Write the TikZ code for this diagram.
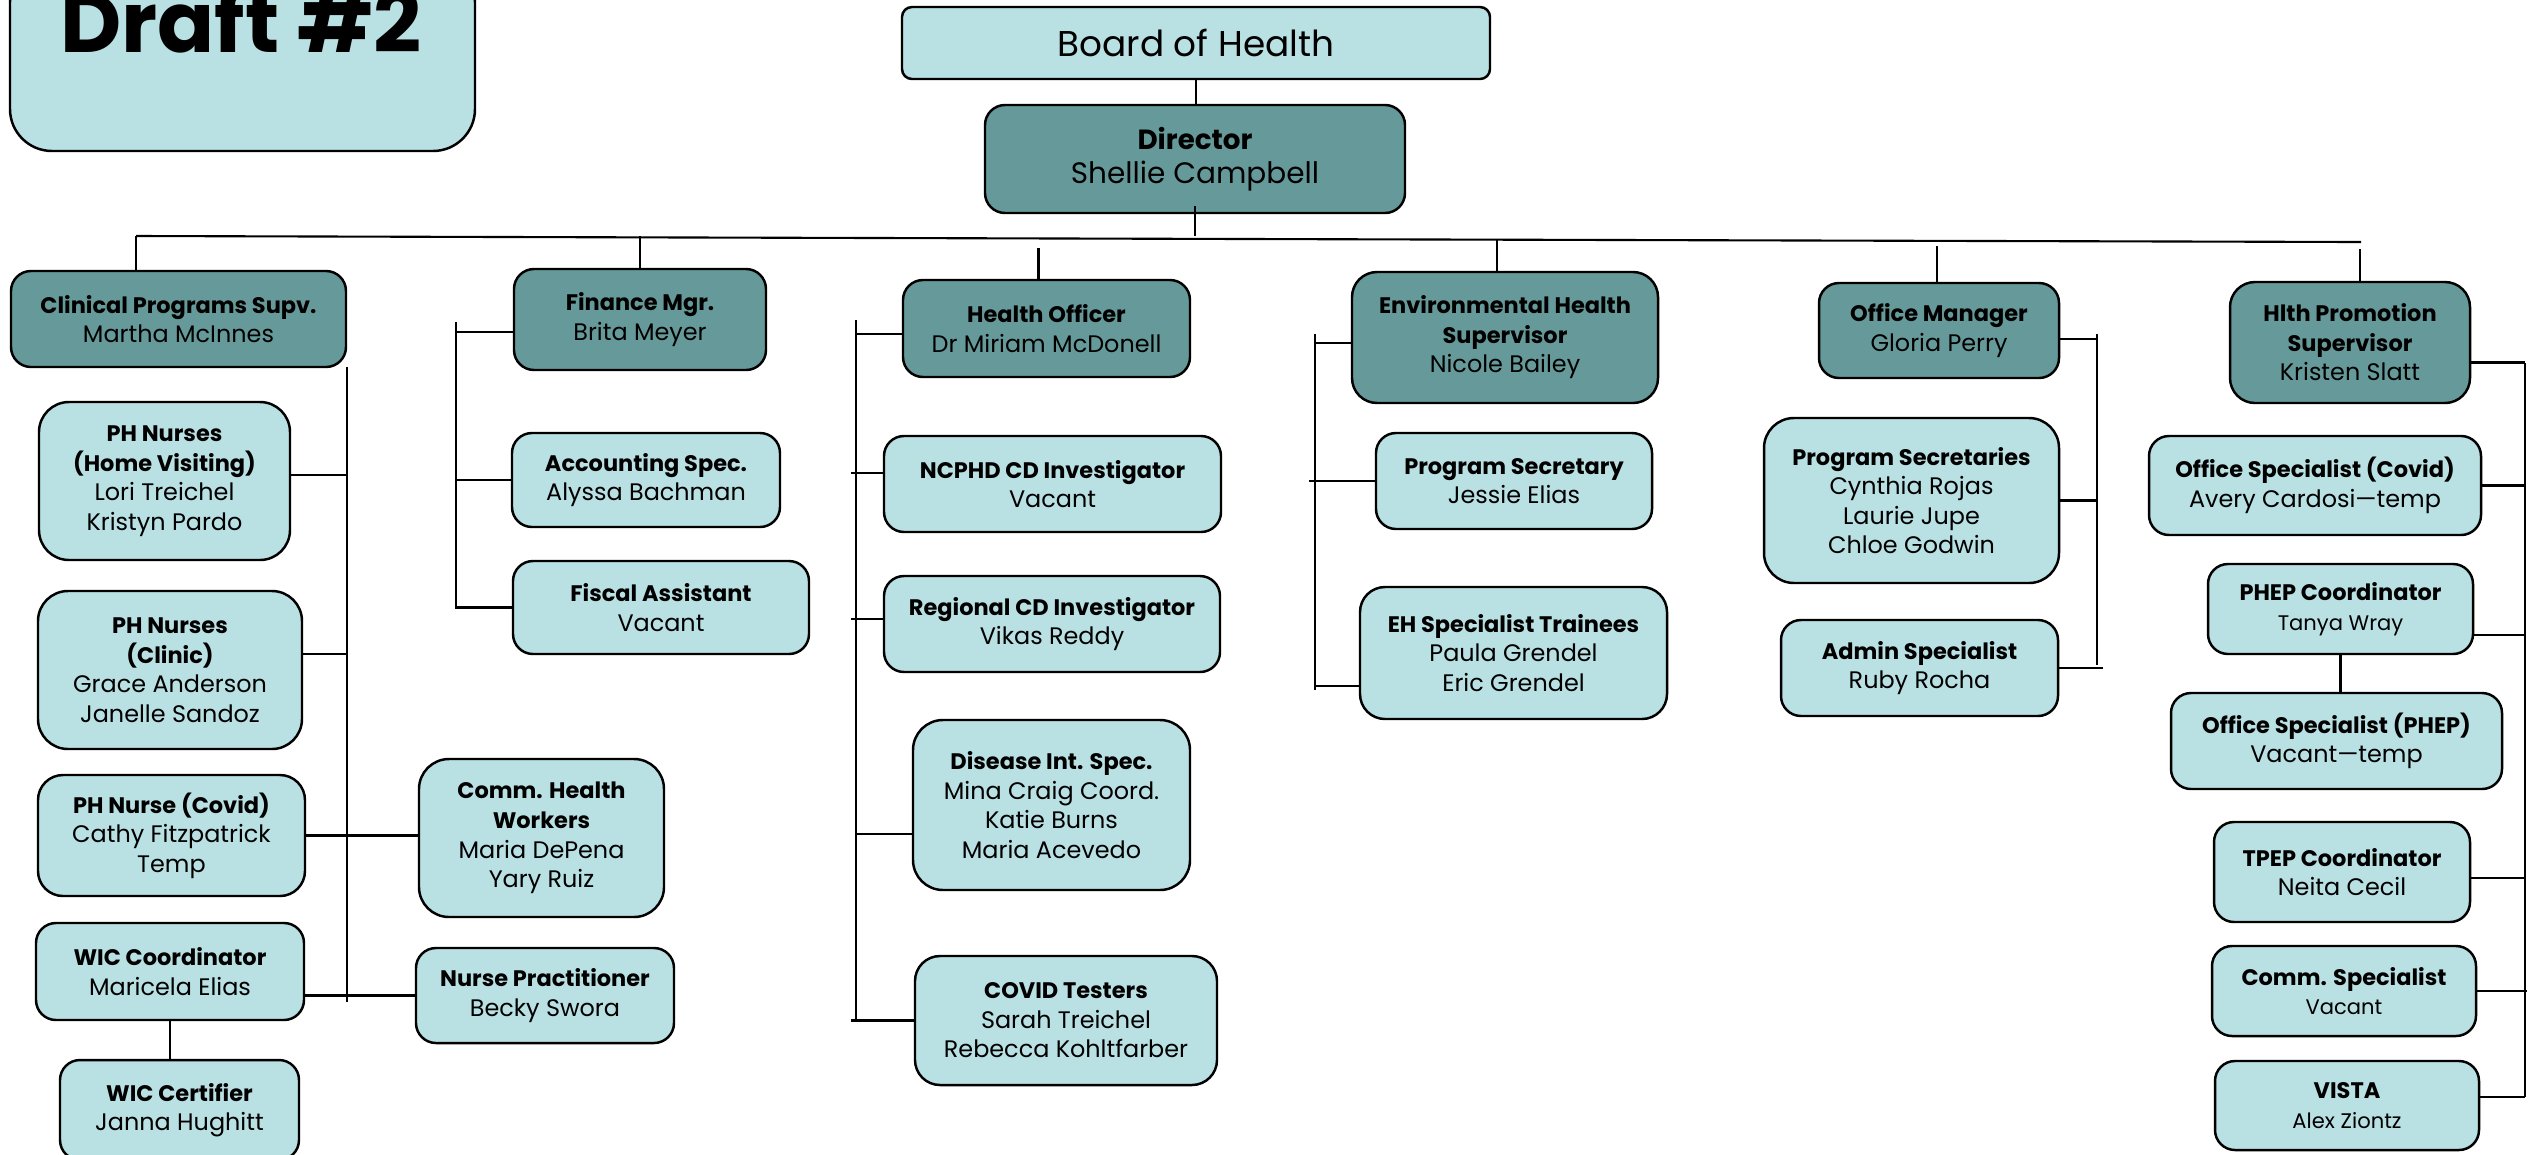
\documentclass[tikz,border=0pt]{standalone}
\usepackage{fontspec}
\setmainfont{Poppins}[BoldFeatures={Scale=0.94}]
\definecolor{litebox}{RGB}{185,224,227}
\definecolor{darkbox}{RGB}{102,153,153}

\begin{document}
\begin{tikzpicture}[
    lite/.style={draw, line width=0.7pt, fill=litebox, rounded corners=0.2cm,
      align=center, inner sep=1pt, font=\fontsize{6.8}{8.4}\selectfont},
    dark/.style={lite, fill=darkbox},
    wh/.style 2 args={minimum width=#1cm, minimum height=#2cm},
    big/.style={rounded corners=0.3cm},
    mid/.style={rounded corners=0.25cm},
    link/.style={line width=0.6pt}
  ]
  \useasboundingbox (0,0) rectangle (25.4,-11.54);
  \begin{scope}
  \clip (0,0) rectangle (25.4,-11.54);
  % title card
  \node[lite, wh={4.65}{1.91}, rounded corners=0.42cm] (draft) at (2.425,-0.555) {};
  \node[font=\fontsize{25.5}{26}\selectfont\bfseries, anchor=base] (drafttxt) at (2.41,-0.52) {Draft \#2};

  % top of the chart
  \node[lite, wh={5.88}{0.72}, rounded corners=0.1cm, font=\fontsize{10.2}{12}\selectfont] (board) at (11.96,-0.43) {Board of Health};
  \node[dark, wh={4.20}{1.08}, font=\fontsize{8.4}{9.8}\selectfont] (director) at (11.95,-1.59) {\textbf{Director}\\Shellie Campbell};

  % supervisors
  \node[dark, wh={3.35}{0.96}] (clin) at (1.785,-3.19) {\textbf{Clinical Programs Supv.}\\Martha McInnes};
  \node[dark, wh={2.52}{1.01}] (fin) at (6.40,-3.195) {\textbf{Finance Mgr.}\\Brita Meyer};
  \node[dark, wh={2.87}{0.97}] (hoff) at (10.465,-3.285) {\textbf{Health Officer}\\Dr Miriam McDonell};
  \node[dark, mid, wh={3.06}{1.31}] (envh) at (15.05,-3.375) {\textbf{Environmental Health}\\\textbf{Supervisor}\\Nicole Bailey};
  \node[dark, wh={2.40}{0.95}] (offm) at (19.39,-3.305) {\textbf{Office Manager}\\Gloria Perry};
  \node[dark, mid, wh={2.40}{1.21}] (hpro) at (23.50,-3.425) {\textbf{Hlth Promotion}\\\textbf{Supervisor}\\Kristen Slatt};

  % clinical programs
  \node[lite, big, wh={2.51}{1.58}] (phhv) at (1.645,-4.81) {\textbf{PH Nurses}\\\textbf{(Home Visiting)}\\Lori Treichel\\Kristyn Pardo};
  \node[lite, big, wh={2.64}{1.58}] (phcl) at (1.70,-6.70) {\textbf{PH Nurses}\\\textbf{(Clinic)}\\Grace Anderson\\Janelle Sandoz};
  \node[lite, mid, wh={2.67}{1.21}] (phcv) at (1.715,-8.355) {\textbf{PH Nurse (Covid)}\\Cathy Fitzpatrick\\Temp};
  \node[lite, wh={2.68}{0.97}] (wicc) at (1.70,-9.715) {\textbf{WIC Coordinator}\\Maricela Elias};
  \node[lite, wh={2.39}{1.00}] (wicr) at (1.795,-11.10) {\textbf{WIC Certifier}\\Janna Hughitt};
  \node[lite, big, wh={2.45}{1.58}] (chw) at (5.415,-8.38) {\textbf{Comm. Health}\\\textbf{Workers}\\Maria DePena\\Yary Ruiz};
  \node[lite, wh={2.58}{0.95}] (np) at (5.45,-9.955) {\textbf{Nurse Practitioner}\\Becky Swora};

  % finance
  \node[lite, wh={2.68}{0.94}] (acct) at (6.46,-4.80) {\textbf{Accounting Spec.}\\Alyssa Bachman};
  \node[lite, wh={2.96}{0.93}] (fisc) at (6.61,-6.075) {\textbf{Fiscal Assistant}\\Vacant};

  % health officer
  \node[lite, wh={3.37}{0.96}] (ncphd) at (10.525,-4.84) {\textbf{NCPHD CD Investigator}\\Vacant};
  \node[lite, wh={3.36}{0.96}] (regcd) at (10.52,-6.24) {\textbf{Regional CD Investigator}\\Vikas Reddy};
  \node[lite, big, wh={2.77}{1.70}] (dis) at (10.515,-8.05) {\textbf{Disease Int. Spec.}\\Mina Craig Coord.\\Katie Burns\\Maria Acevedo};
  \node[lite, mid, wh={3.02}{1.29}] (covt) at (10.66,-10.205) {\textbf{COVID Testers}\\Sarah Treichel\\Rebecca Kohltfarber};

  % environmental health
  \node[lite, wh={2.76}{0.96}] (psec) at (15.14,-4.81) {\textbf{Program Secretary}\\Jessie Elias};
  \node[lite, mid, wh={3.07}{1.32}] (ehst) at (15.135,-6.53) {\textbf{EH Specialist Trainees}\\Paula Grendel\\Eric Grendel};

  % office
  \node[lite, big, wh={2.95}{1.65}] (psecs) at (19.115,-5.005) {\textbf{Program Secretaries}\\Cynthia Rojas\\Laurie Jupe\\Chloe Godwin};
  \node[lite, wh={2.77}{0.96}] (adm) at (19.195,-6.68) {\textbf{Admin Specialist}\\Ruby Rocha};

  % health promotion
  \node[lite, wh={3.32}{0.99}] (oscv) at (23.15,-4.855) {\textbf{Office Specialist (Covid)}\\Avery Cardosi—temp};
  \node[lite, wh={2.65}{0.90}] (phep) at (23.405,-6.09) {\textbf{PHEP Coordinator}\\{\fontsize{6}{8}\selectfont Tanya Wray}};
  \node[lite, wh={3.31}{0.96}] (osph) at (23.365,-7.41) {\textbf{Office Specialist (PHEP)}\\Vacant—temp};
  \node[lite, wh={2.56}{1.00}] (tpep) at (23.42,-8.72) {\textbf{TPEP Coordinator}\\Neita Cecil};
  \node[lite, wh={2.64}{0.90}] (comm) at (23.44,-9.91) {\textbf{Comm. Specialist}\\{\fontsize{6}{8}\selectfont Vacant}};
  \node[lite, wh={2.64}{0.89}] (vista) at (23.47,-11.055) {\textbf{VISTA}\\{\fontsize{6}{8}\selectfont Alex Ziontz}};

  % main bus
  \coordinate (busL) at (1.36,-2.36);
  \coordinate (busR) at (23.61,-2.42);
  \draw[link] (board.south) -- (board.south |- director.north);
  \draw[link] ([yshift=0.08cm]director.south) -- (director.south |- busL);
  \draw[link] (busL) -- (busR);
  \draw[link] (busL) -- (busL |- clin.north);
  \draw[link] (fin.north) -- (fin.north |- busL);
  \draw[link] ([xshift=-0.08cm]hoff.north) -- +(0,0.31);
  \draw[link] ([xshift=-0.08cm]envh.north) -- +(0,0.32);
  \draw[link] ([xshift=-0.02cm]offm.north) -- +(0,0.36);
  \draw[link] ([xshift=0.1cm]hpro.north) -- +(0,0.32);

  % clinical links
  \coordinate (clinT) at (3.47,-3.67);
  \coordinate (clinB) at (3.47,-10.02);
  \draw[link] (clinT) -- (clinB);
  \draw[link] ([yshift=0.06cm]phhv.east) -- ([yshift=0.06cm]phhv.east -| clinT);
  \draw[link] ([yshift=0.16cm]phcl.east) -- ([yshift=0.16cm]phcl.east -| clinT);
  \draw[link] (phcv.east) -- (chw.west |- phcv.east);
  \draw[link] (np.west) -- (np.west -| wicc.east);
  \draw[link] (wicc.south) -- (wicc.south |- wicr.north);

  % finance links
  \coordinate (finT) at (4.56,-3.22);
  \coordinate (finB) at (4.56,-6.09);
  \draw[link] (finT) -- (finB);
  \draw[link] ([yshift=-0.125cm]fin.west) -- ([yshift=-0.125cm]fin.west -| finT);
  \draw[link] (acct.west) -- (acct.west -| finT);
  \draw[link] (fisc.west) -- (fisc.west -| finT);

  % health officer links
  \coordinate (hoT) at (8.56,-3.20);
  \coordinate (hoB) at (8.56,-10.22);
  \draw[link] (hoT) -- (hoB);
  \draw[link] ([yshift=-0.055cm]hoff.west) -- ([yshift=-0.055cm]hoff.west -| hoT);
  \draw[link] ([yshift=0.11cm]ncphd.west) -- ([yshift=0.11cm,xshift=-0.05cm]ncphd.west -| hoT);
  \draw[link] ([yshift=0.05cm]regcd.west) -- ([yshift=0.05cm,xshift=-0.05cm]regcd.west -| hoT);
  \draw[link] ([yshift=-0.29cm]dis.west) -- ([yshift=-0.29cm]dis.west -| hoT);
  \draw[link] (covt.west) -- ([xshift=-0.05cm]covt.west -| hoT);

  % environmental health links
  \coordinate (ehT) at (13.15,-3.34);
  \coordinate (ehB) at (13.15,-6.90);
  \draw[link] (ehT) -- (ehB);
  \draw[link] ([yshift=-0.055cm]envh.west) -- ([yshift=-0.055cm]envh.west -| ehT);
  \draw[link] (psec.west) -- ([xshift=-0.06cm]psec.west -| ehT);
  \draw[link] ([yshift=-0.33cm]ehst.west) -- ([yshift=-0.33cm]ehst.west -| ehT);

  % office links
  \coordinate (omT) at (20.97,-3.34);
  \coordinate (omB) at (20.97,-6.65);
  \draw[link] (omT) -- (omB);
  \draw[link] ([yshift=-0.085cm]offm.east) -- ([yshift=-0.085cm]offm.east -| omT);
  \draw[link] (psecs.east) -- (psecs.east -| omT);
  \draw[link] (adm.east) -- ([xshift=0.06cm]adm.east -| omT);

  % health promotion links
  \coordinate (hpT) at (25.25,-3.63);
  \coordinate (hpB) at (25.25,-10.97);
  \draw[link] (hpT) -- (hpB);
  \draw[link] ([yshift=-0.2cm]hpro.east) -- ([yshift=-0.2cm]hpro.east -| hpT);
  \draw[link] (oscv.east) -- (oscv.east -| hpT);
  \draw[link] ([yshift=-0.26cm]phep.east) -- ([yshift=-0.26cm]phep.east -| hpT);
  \draw[link] (phep.south) -- (phep.south |- osph.north);
  \draw[link] ([yshift=-0.06cm]tpep.east) -- ([yshift=-0.06cm]tpep.east -| hpT);
  \draw[link] (comm.east) -- ([xshift=0.02cm]comm.east -| hpT);
  \draw[link] ([yshift=0.085cm]vista.east) -- ([yshift=0.085cm]vista.east -| hpT);
  \end{scope}
\end{tikzpicture}
\end{document}
